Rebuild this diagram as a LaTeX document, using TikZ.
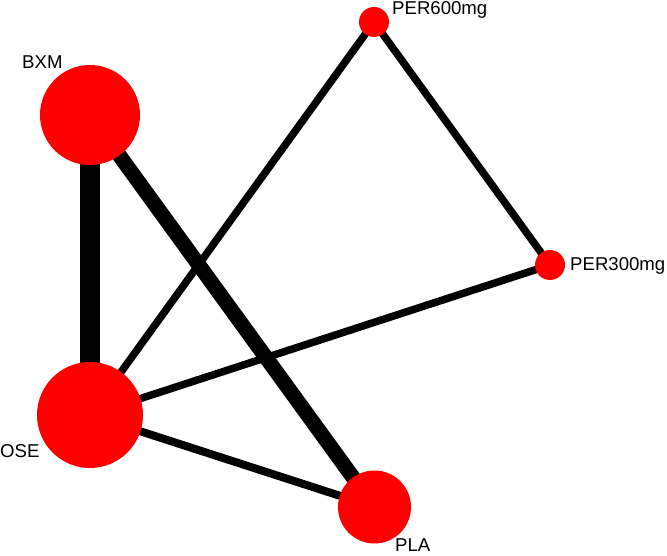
\documentclass[tikz,border=0pt]{standalone}
\usepackage{fontspec}
\setmainfont{Liberation Sans}
\usetikzlibrary{backgrounds}
\begin{document}
\begin{tikzpicture}[x=1pt,y=-1pt,
  trt/.style={circle,fill=red,draw=none,inner sep=0pt},
  lbl/.style={font=\fontsize{18.6}{18.6}\selectfont,anchor=base west,inner sep=0pt},
  edge/.style={draw=black,line cap=butt}]
\useasboundingbox (0,0) rectangle (667,556);
\node[trt,minimum size=100pt] (BXM) at (90,115) {};
\node[trt,minimum size=106pt] (OSE) at (90,415) {};
\node[trt,minimum size=73pt] (PLA) at (374.5,507) {};
\node[trt,minimum size=30pt] (P600) at (374,22) {};
\node[trt,minimum size=30pt] (P300) at (550,265) {};
\begin{scope}[on background layer]
\draw[edge,line width=20pt] (BXM.center) -- (OSE.center);
\draw[edge,line width=15pt] (BXM.center) -- (PLA.center);
\draw[edge,line width=7.5pt] (OSE.center) -- (P600.center);
\draw[edge,line width=7.5pt] (OSE.center) -- (P300.center);
\draw[edge,line width=8pt] (OSE.center) -- (PLA.center);
\draw[edge,line width=7.5pt] (P600.center) -- (P300.center);
\end{scope}
\node[lbl] (tBXM) at (22,69) {BXM};
\node[lbl] (tOSE) at (0,457) {OSE};
\node[lbl] (tPLA) at (395,551) {PLA};
\node[lbl] (tP600) at (392,15) {PER600mg};
\node[lbl] (tP300) at (570,271) {PER300mg};
\end{tikzpicture}
\end{document}
